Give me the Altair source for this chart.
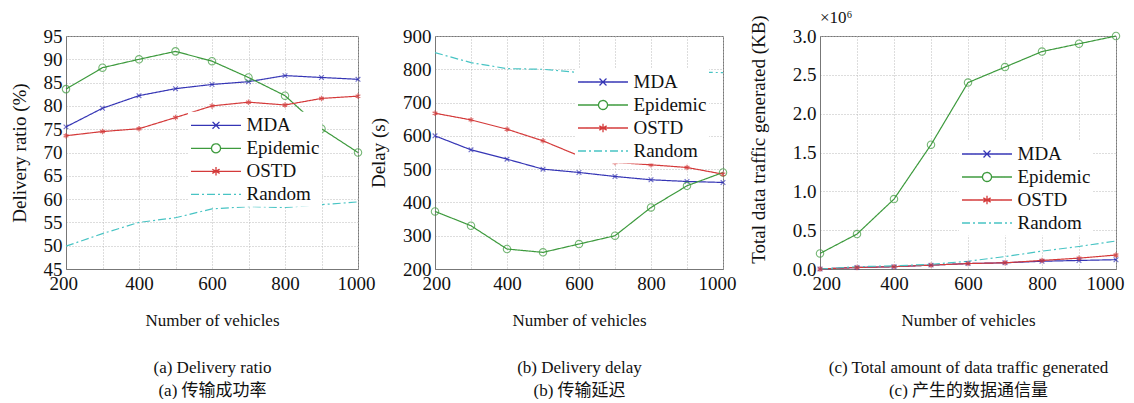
import altair as alt
import pandas as pd

vehicles = [200, 300, 400, 500, 600, 700, 800, 900, 1000]
series_names = ["MDA", "Epidemic", "OSTD", "Random"]

# (a) Delivery ratio (%)
a_mda = [75.5, 79.5, 82.2, 83.7, 84.6, 85.2, 86.5, 86.1, 85.7]
a_epi = [83.6, 88.2, 90.0, 91.7, 89.6, 86.1, 82.2, 75.1, 70.0]
a_ostd = [73.6, 74.5, 75.1, 77.5, 80.0, 80.8, 80.2, 81.6, 82.1]
a_rand = [49.9, 52.6, 55.0, 56.0, 57.9, 58.4, 58.2, 58.8, 59.4]

# (b) Delay (s)
b_mda = [600, 558, 530, 500, 490, 478, 468, 463, 460]
b_epi = [373, 330, 260, 250, 275, 300, 385, 450, 490]
b_ostd = [668, 648, 620, 585, 540, 520, 513, 505, 485]
b_rand = [850, 820, 802, 800, 790, 782, 783, 792, 790]

# (c) Total data traffic generated (x10^6 KB)
c_mda = [0.0, 0.02, 0.03, 0.05, 0.07, 0.08, 0.10, 0.11, 0.12]
c_epi = [0.2, 0.45, 0.9, 1.6, 2.4, 2.6, 2.8, 2.9, 3.0]
c_ostd = [0.0, 0.02, 0.03, 0.05, 0.07, 0.08, 0.11, 0.14, 0.18]
c_rand = [0.0, 0.03, 0.04, 0.06, 0.10, 0.16, 0.23, 0.29, 0.36]

colors = ["#3535b5", "#3d9a3d", "#d43a3a", "#48c4c4"]
dashes = [[1, 0], [1, 0], [1, 0], [8, 3, 2, 3]]

cross_path = "M-1,-1L1,1M-1,1L1,-1"
star_path = "M0,-1L0,1M-0.87,-0.5L0.87,0.5M-0.87,0.5L0.87,-0.5"
legend_paths = [
    "M-2.38,0L2.38,0M-0.33,-0.33L0.33,0.33M-0.33,0.33L0.33,-0.33",
    "M-2.38,0L-0.43,0M0.43,0L2.38,0M0.43,0A0.43,0.43,0,1,1,-0.43,0A0.43,0.43,0,1,1,0.43,0",
    "M-2.38,0L2.38,0M0,-0.4L0,0.4M-0.35,-0.2L0.35,0.2M-0.35,0.2L0.35,-0.2",
    "M-2.38,0L2.38,0",
]

FONT = "Liberation Serif, Noto Sans CJK SC"


def make_df(vals_list):
    rows = []
    for name, vals in zip(series_names, vals_list):
        for x, v in zip(vehicles, vals):
            rows.append({"vehicles": x, "series": name, "value": v})
    return pd.DataFrame(rows)


def panel(df, ytitle, ydomain, ystep, yfmt, width, captions, legend_xy, title_pad,
          flush_offset, top_title=None, title_y=None):
    yvals = []
    v = ydomain[0]
    while v <= ydomain[1] + 1e-9:
        yvals.append(round(v, 3))
        v += ystep
    x_enc = alt.X(
        "vehicles:Q",
        scale=alt.Scale(domain=[200, 1000], nice=False),
        axis=alt.Axis(
            values=vehicles,
            format="d",
            labelFlush=True,
            labelFlushOffset=flush_offset,
            labelExpr="datum.value % 200 == 0 ? datum.label : ''",
            title=["Number of vehicles", "\u200b", captions[0], captions[1]],
            titleLineHeight=23.5,
            titlePadding=19,
        ),
    )
    yaxis_kw = dict(values=yvals, format=yfmt, title=ytitle, titlePadding=title_pad)
    if title_y is not None:
        yaxis_kw["titleY"] = title_y
    y_enc = alt.Y(
        "value:Q",
        scale=alt.Scale(domain=ydomain, nice=False, zero=False),
        axis=alt.Axis(**yaxis_kw),
    )
    leg = alt.Legend(
        title=None,
        orient="none",
        legendX=legend_xy[0],
        legendY=legend_xy[1],
        fillColor="white",
        padding=2,
        labelFont=FONT,
        labelFontSize=19,
        labelColor="#111",
        labelOffset=19,
        symbolOffset=14.5,
        symbolSize=441,
        symbolStrokeWidth=1.3,
        symbolFillColor="transparent",
        rowPadding=1,
        symbolOpacity=1,
    )
    color_enc = alt.Color("series:N", scale=alt.Scale(domain=series_names, range=colors), legend=leg)
    dash_enc = alt.StrokeDash("series:N", scale=alt.Scale(domain=series_names, range=dashes), legend=leg)
    base = alt.Chart(df)
    legend_layer = base.transform_filter("false").mark_point(
        filled=False, size=441, strokeWidth=1.3
    ).encode(
        x=x_enc,
        y=y_enc,
        color=color_enc,
        shape=alt.Shape("series:N", scale=alt.Scale(domain=series_names, range=legend_paths), legend=leg),
        strokeDash=dash_enc,
    )
    line = base.mark_line(strokeWidth=1.2).encode(
        x=x_enc, y=y_enc, color=color_enc, strokeDash=dash_enc,
    )
    pts_mda = base.transform_filter("datum.series == 'MDA'").mark_point(
        shape=cross_path, size=22, filled=False, strokeWidth=1.1
    ).encode(x=x_enc, y=y_enc, color=color_enc)
    pts_epi = base.transform_filter("datum.series == 'Epidemic'").mark_point(
        shape="circle", size=55, filled=False, strokeWidth=1.1
    ).encode(x=x_enc, y=y_enc, color=color_enc)
    pts_ostd = base.transform_filter("datum.series == 'OSTD'").mark_point(
        shape=star_path, size=30, filled=False, strokeWidth=1.3
    ).encode(x=x_enc, y=y_enc, color=color_enc)

    props = dict(width=width, height=233)
    if top_title:
        props["title"] = alt.TitleParams(
            top_title, anchor="start", orient="top", frame="group",
            font=FONT, fontSize=17, fontWeight="normal", offset=-12, color="#111",
        )
    return alt.layer(legend_layer, line, pts_mda, pts_epi, pts_ostd).properties(**props)


pa = panel(make_df([a_mda, a_epi, a_ostd, a_rand]), "Delivery ratio (%)", [45, 95], 5, "d", 292,
           ["(a) Delivery ratio", "(a) 传输成功率"], (122, 75.8), 14, 17)
pb = panel(make_df([b_mda, b_epi, b_ostd, b_rand]), "Delay (s)", [200, 900], 100, "d", 288,
           ["(b) Delivery delay", "(b) 传输延迟"], (140, 32.5), 14, 13)
pc = panel(make_df([c_mda, c_epi, c_ostd, c_rand]), "Total data traffic generated (KB)", [0, 3], 0.5, ".1f", 296,
           ["(c) Total amount of data traffic generated", "(c) 产生的数据通信量"], (139, 104.5), 24, 8,
           top_title="×10⁶", title_y=103)

indep = dict(x="independent", y="independent", color="independent", shape="independent", strokeDash="independent")
leg_indep = dict(color="independent", shape="independent", strokeDash="independent")

inner = alt.hconcat(pa, pb, spacing=77, bounds="flush").resolve_scale(**indep).resolve_legend(**leg_indep)

chart = alt.hconcat(inner, pc, spacing=11).resolve_scale(**indep).resolve_legend(
    **leg_indep
).properties(
    padding={"left": 1, "top": 0, "right": 0, "bottom": 0},
    background="white",
).configure_view(stroke="#777", strokeWidth=1).configure_axis(
    labelFont=FONT,
    titleFont=FONT,
    labelFontSize=19,
    titleFontSize=19,
    labelColor="#111",
    titleColor="#111",
    titleFontWeight="normal",
    ticks=False,
    labelPadding=4,
    grid=True,
    gridColor="#bbbbbb",
    gridDash=[1, 2],
    gridWidth=1,
    domainColor="#777",
).configure_axisX(titleFontSize=17, labelPadding=5)

chart.save("out.html", embed_options={"renderer": "svg", "actions": False})
